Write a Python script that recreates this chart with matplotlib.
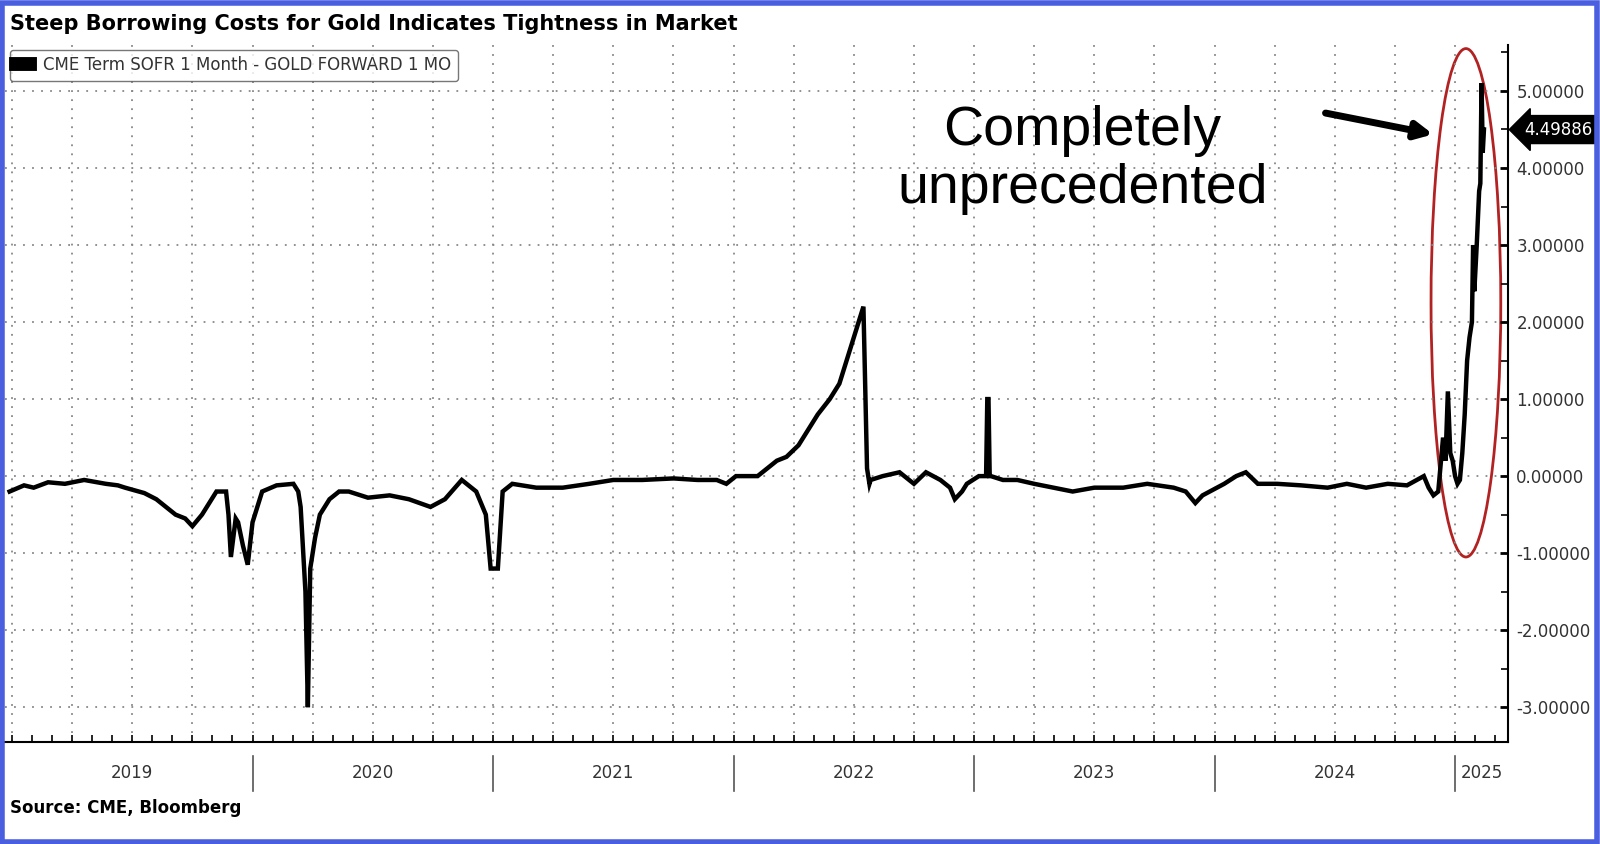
import matplotlib.pyplot as plt
from matplotlib.patches import Ellipse, Rectangle
from matplotlib.ticker import FixedLocator, MultipleLocator, NullFormatter

# decimal years, values
dates = [2018.99, 2019.05, 2019.09, 2019.15, 2019.22, 2019.30, 2019.39, 2019.44, 2019.47,
         2019.55, 2019.60, 2019.64, 2019.68, 2019.72, 2019.75, 2019.79, 2019.85, 2019.89,
         2019.90, 2019.91, 2019.93, 2019.94, 2019.96, 2019.98, 2020.00, 2020.04, 2020.10,
         2020.17, 2020.19, 2020.20, 2020.22, 2020.23, 2020.24, 2020.26, 2020.28, 2020.32,
         2020.36, 2020.40, 2020.48, 2020.57, 2020.65, 2020.74, 2020.80, 2020.87, 2020.93,
         2020.97, 2020.99, 2021.02, 2021.04, 2021.08, 2021.18, 2021.29, 2021.40, 2021.50,
         2021.62, 2021.75, 2021.85, 2021.93, 2021.97, 2022.01, 2022.10, 2022.14, 2022.18,
         2022.22, 2022.27, 2022.31, 2022.35, 2022.40, 2022.44, 2022.47, 2022.50, 2022.52,
         2022.54, 2022.555, 2022.565, 2022.57, 2022.62, 2022.69, 2022.75, 2022.80, 2022.86,
         2022.90, 2022.92, 2022.95, 2022.97, 2023.02, 2023.05, 2023.055, 2023.06, 2023.065,
         2023.07, 2023.12, 2023.18, 2023.25, 2023.33, 2023.41, 2023.50, 2023.62, 2023.72,
         2023.83, 2023.88, 2023.92, 2023.95, 2023.98, 2024.04, 2024.09, 2024.13, 2024.18,
         2024.26, 2024.36, 2024.47, 2024.55, 2024.63, 2024.72, 2024.80, 2024.87, 2024.89,
         2024.91, 2024.93, 2024.95, 2024.96, 2024.97, 2024.98, 2024.99, 2025.00, 2025.01,
         2025.02, 2025.03, 2025.04, 2025.05, 2025.06, 2025.07, 2025.075, 2025.08, 2025.09,
         2025.10, 2025.105, 2025.11, 2025.115, 2025.12]
values = [-0.2, -0.12, -0.15, -0.08, -0.1, -0.05, -0.1, -0.12, -0.15,
          -0.22, -0.3, -0.4, -0.5, -0.55, -0.65, -0.5, -0.2, -0.2,
          -0.5, -1.05, -0.55, -0.6, -0.9, -1.15, -0.6, -0.2, -0.12,
          -0.1, -0.2, -0.4, -1.5, -3.0, -1.2, -0.8, -0.5, -0.3,
          -0.2, -0.2, -0.28, -0.25, -0.3, -0.4, -0.3, -0.05, -0.2,
          -0.5, -1.2, -1.2, -0.2, -0.1, -0.15, -0.15, -0.1, -0.05,
          -0.05, -0.03, -0.05, -0.05, -0.1, 0.0, 0.0, 0.1, 0.2,
          0.25, 0.4, 0.6, 0.8, 1.0, 1.2, 1.5, 1.8, 2.0,
          2.2, 0.1, -0.1, -0.05, 0.0, 0.05, -0.1, 0.05, -0.05,
          -0.15, -0.3, -0.2, -0.1, 0.0, 0.0, 1.0, 1.0, 0.0,
          0.0, -0.05, -0.05, -0.1, -0.15, -0.2, -0.15, -0.15, -0.1,
          -0.15, -0.2, -0.35, -0.25, -0.2, -0.1, 0.0, 0.05, -0.1,
          -0.1, -0.12, -0.15, -0.1, -0.15, -0.1, -0.12, 0.0, -0.15,
          -0.25, -0.2, 0.5, 0.2, 1.1, 0.3, 0.2, 0.0, -0.1,
          -0.05, 0.3, 0.8, 1.5, 1.8, 2.0, 3.0, 2.4, 3.0,
          3.7, 3.8, 5.1, 4.2, 4.5]

years = ['2019', '2020', '2021', '2022', '2023', '2024', '2025']
year_starts = [2019, 2020, 2021, 2022, 2023, 2024, 2025]
last_value = 4.49886

fig = plt.figure(figsize=(16, 8.44), dpi=100)
ax = fig.add_axes([0.003, 0.121, 0.9395, 0.826])
ax.plot(dates, values, color='black', lw=3.2, solid_joinstyle='miter')

ax.set_xlim(2018.97, 2025.22)
ax.set_ylim(-3.45, 5.6)

ax.yaxis.tick_right()
ax.yaxis.set_major_locator(MultipleLocator(1))
ax.yaxis.set_minor_locator(MultipleLocator(0.5))
ax.yaxis.set_major_formatter(lambda v, p: '%.5f' % v)
ax.tick_params(axis='y', which='major', direction='in', length=6, width=2, labelsize=12,
               labelcolor='#333333', pad=6)
ax.tick_params(axis='y', which='minor', direction='in', length=5, width=1.2)

quarters = [2019 + q * 0.25 for q in range(25)]
months = [2019 + m / 12 for m in range(76)]
ax.xaxis.set_major_locator(FixedLocator(quarters))
ax.xaxis.set_minor_locator(FixedLocator(months))
ax.xaxis.set_major_formatter(NullFormatter())
ax.tick_params(axis='x', which='both', direction='in', length=5, width=1.2)

ax.grid(True, which='major', color='#888888', linestyle=(0, (1, 4)), lw=1.3)

for s in ['left', 'top']:
    ax.spines[s].set_visible(False)
ax.spines['right'].set_linewidth(1.5)
ax.spines['bottom'].set_linewidth(1.5)

# year separators and labels under the axis
for i, ys in enumerate(year_starts):
    if ys > 2019:
        ax.plot([ys, ys], [-0.02, -0.07], transform=ax.get_xaxis_transform(),
                color='#555555', lw=1.2, clip_on=False)
    mid = ys + 0.5 if ys < 2025 else 2025.11
    ax.text(mid, -0.045, years[i], transform=ax.get_xaxis_transform(),
            ha='center', va='center', fontsize=12, color='#333333')

# last value tag
ax.annotate('%.5f' % last_value, xy=(1.0, last_value), xycoords=('axes fraction', 'data'),
            xytext=(12, 0), textcoords='offset points', ha='left', va='center',
            fontsize=12, color='white',
            bbox=dict(boxstyle='larrow,pad=0.3', fc='black', ec='black'))

ax.legend(['CME Term SOFR 1 Month - GOLD FORWARD 1 MO'], loc='upper left',
          bbox_to_anchor=(0.0, 1.0), fontsize=12, handlelength=0.8, handleheight=0.8,
          frameon=True, edgecolor='#555555', fancybox=True, borderaxespad=0.3,
          labelcolor='#333333')
leg = ax.get_legend()
leg.get_lines()[0].set_linewidth(10)

ax.text(2023.45, 4.1, 'Completely\nunprecedented', fontsize=40, ha='center', va='center',
        linespacing=1.15, family='Liberation Sans')
ax.annotate('', xy=(2024.92, 4.43), xytext=(2024.45, 4.72),
            arrowprops=dict(arrowstyle='-|>,head_width=0.5,head_length=1.0', lw=5, color='black'))
ax.add_patch(Ellipse((2025.045, 2.25), 0.29, 6.6, fill=False, ec='#b22222', lw=2, clip_on=False))

fig.text(0.006, 0.972, 'Steep Borrowing Costs for Gold Indicates Tightness in Market',
         fontsize=15, fontweight='bold', va='center')
fig.text(0.006, 0.043, 'Source: CME, Bloomberg', fontsize=12, fontweight='bold', va='center')

fig.patches.append(Rectangle((0.001, 0.002), 0.997, 0.995, transform=fig.transFigure,
                             fill=False, ec='#4a5fe0', lw=4))

fig.savefig('out.png', dpi=100)
